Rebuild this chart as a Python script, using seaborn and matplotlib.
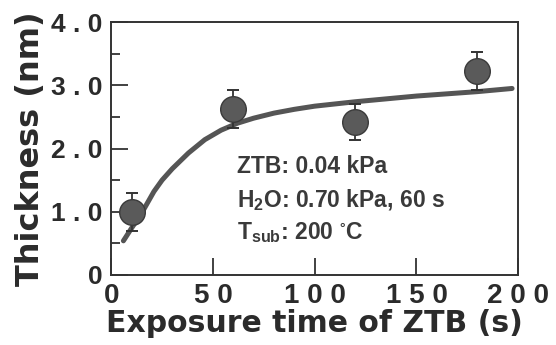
import numpy as np
import pandas as pd
import matplotlib
matplotlib.use('Agg')
import matplotlib.pyplot as plt
import seaborn as sns

sns.set_theme(style="ticks")
plt.rcParams['font.family'] = ['Liberation Sans', 'DejaVu Sans']
plt.rcParams['mathtext.default'] = 'regular'

# measured points
exposure_s = [10, 60, 120, 180]
thickness_nm = [1.00, 2.63, 2.42, 3.22]
thickness_err = [0.30, 0.30, 0.28, 0.30]

# fitted curve
curve_t = [6, 10, 15, 21, 25, 30, 38, 46, 54, 62, 70, 80, 90, 100, 120, 150, 180, 197]
curve_y = [0.54, 0.74, 0.98, 1.32, 1.50, 1.68, 1.93, 2.14, 2.29, 2.40, 2.48, 2.56, 2.62, 2.67, 2.74, 2.83, 2.90, 2.95]

x_ticks = [0, 50, 100, 150, 200]
x_tick_labels = ['0', '5 0', '1 0 0', '1 5 0', '2 0 0']
y_ticks = [0, 1, 2, 3, 4]
y_tick_labels = ['0', '1 . 0', '2 . 0', '3 . 0', '4 . 0']

notes = ['ZTB: 0.04 kPa', 'H$_2$O: 0.70 kPa, 60 s', 'T$_{sub}$: 200 $^{\\circ}$C']

curve = pd.DataFrame({'t': curve_t, 'y': curve_y})
points = pd.DataFrame({'t': exposure_s, 'y': thickness_nm})

ink = '#2b2b2b'

fig = plt.figure(figsize=(5.56, 3.45), dpi=100)
ax = fig.add_axes([0.2, 0.203, 0.732, 0.733])

sns.lineplot(data=curve, x='t', y='y', ax=ax, color='#555555', linewidth=3.6,
             solid_capstyle='round', zorder=2)
ax.errorbar(exposure_s, thickness_nm, yerr=thickness_err, fmt='none',
            ecolor='#333333', elinewidth=1.3, capsize=4.5, capthick=1.4, zorder=3)
sns.scatterplot(data=points, x='t', y='y', ax=ax, s=340, color='#5a5a5a',
                edgecolor='#3a3a3a', linewidth=1, zorder=4)

ax.set_xlim(0, 200)
ax.set_ylim(0, 4)
ax.set_xticks(x_ticks)
ax.set_xticklabels(x_tick_labels, fontsize=20, fontweight='bold', color=ink)
ax.set_yticks(y_ticks)
ax.set_yticklabels(y_tick_labels, fontsize=19, fontweight='bold', color=ink)
ax.set_yticks([0.5, 1.5, 2.5, 3.5], minor=True)
ax.tick_params(axis='both', which='major', direction='in', length=12, width=1.3,
               color='#333333')
ax.tick_params(axis='y', which='minor', direction='in', length=6.5, width=1.3, color='#333333')
ax.tick_params(axis='x', pad=6)
ax.tick_params(axis='y', pad=6)
for sp in ax.spines.values():
    sp.set_visible(True)
    sp.set_color('#333333')
    sp.set_linewidth(1.4)

ax.set_xlabel('Exposure time of ZTB (s)', fontsize=21.5, fontweight='bold', color=ink,
              family='DejaVu Sans', labelpad=0)
ax.set_ylabel('Thickness (nm)', fontsize=23, fontweight='bold', color=ink,
              family='DejaVu Sans', labelpad=4)

for i, txt in enumerate(notes):
    ax.text(62, 1.71 - i * 0.52, txt, fontsize=16.5, fontweight='bold', color='#3a3a3a',
            va='center', ha='left')

fig.savefig('out.png', dpi=100)
